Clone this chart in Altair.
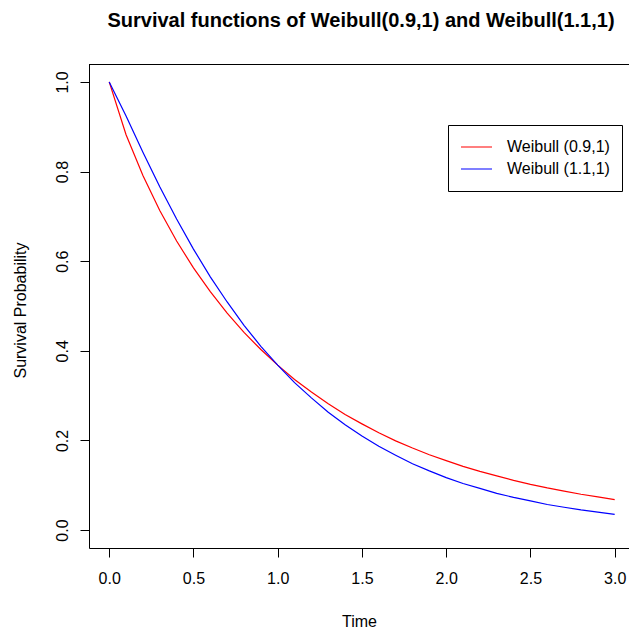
import altair as alt
import pandas as pd

# Values
time = [0.0, 0.1, 0.2, 0.3, 0.4, 0.5, 0.6, 0.7, 0.8, 0.9, 1.0,
        1.1, 1.2, 1.3, 1.4, 1.5, 1.6, 1.7, 1.8, 1.9, 2.0,
        2.1, 2.2, 2.3, 2.4, 2.5, 2.6, 2.7, 2.8, 2.9, 3.0]
surv_09 = [1.000, 0.882, 0.791, 0.713, 0.645, 0.585, 0.532, 0.484, 0.441, 0.403, 0.368,
           0.336, 0.308, 0.282, 0.258, 0.237, 0.217, 0.199, 0.183, 0.168, 0.155,
           0.142, 0.131, 0.121, 0.111, 0.102, 0.094, 0.087, 0.080, 0.074, 0.068]
surv_11 = [1.000, 0.924, 0.843, 0.766, 0.694, 0.627, 0.565, 0.509, 0.457, 0.410, 0.368,
           0.329, 0.295, 0.263, 0.235, 0.210, 0.187, 0.167, 0.148, 0.132, 0.117,
           0.104, 0.093, 0.082, 0.073, 0.065, 0.057, 0.051, 0.045, 0.040, 0.035]
series_names = ["Weibull (0.9,1)", "Weibull (1.1,1)"]
series_colors = ["#FF0000", "#0000FF"]
x_ticks = [0.0, 0.5, 1.0, 1.5, 2.0, 2.5, 3.0]
y_ticks = [0.0, 0.2, 0.4, 0.6, 0.8, 1.0]

rows = []
for t, a, b in zip(time, surv_09, surv_11):
    rows.append({"Time": t, "S": a, "Series": series_names[0]})
    rows.append({"Time": t, "S": b, "Series": series_names[1]})
df = pd.DataFrame(rows)

FONT = "Liberation Sans"
W, H = 540, 484

lines = alt.Chart(df).mark_line(strokeWidth=1.2, clip=True).encode(
    x=alt.X("Time:Q", scale=alt.Scale(domain=[-0.12, 3.085], nice=False, zero=False),
            axis=alt.Axis(values=x_ticks, format=".1f", title="Time",
                          titleY=78, titleBaseline="alphabetic",
                          labelBaseline="top", labelPadding=13)),
    y=alt.Y("S:Q", scale=alt.Scale(domain=[-0.04, 1.04], nice=False, zero=False),
            axis=alt.Axis(values=y_ticks, format=".1f", title="Survival Probability",
                          labelAngle=270, labelAlign="center", labelBaseline="alphabetic",
                          labelPadding=13, titleAngle=270, titleX=-64, titleY=246,
                          titleBaseline="alphabetic", titleAlign="center")),
    color=alt.Color("Series:N",
                    scale=alt.Scale(domain=series_names, range=series_colors),
                    legend=alt.Legend(title=None, orient="none", legendX=359, legendY=61,
                                      symbolType="stroke", symbolSize=961,
                                      symbolStrokeWidth=1.2, clipHeight=20,
                                      labelFontSize=16, labelFont=FONT, labelColor="black",
                                      labelOffset=14, padding=12,
                                      fillColor="white", strokeColor="black")),
    order=alt.Order("Time:Q"),
)

top_border = alt.Chart(pd.DataFrame({"a": [0]})).mark_rule(color="black", strokeWidth=1).encode(
    x=alt.value(0), x2=alt.value(W), y=alt.value(0.5)
)

chart = alt.layer(lines, top_border).properties(
    width=W, height=H,
    title=alt.TitleParams(
        "Survival functions of Weibull(0.9,1) and Weibull(1.1,1)",
        font=FONT, fontSize=20, fontWeight="bold", color="black",
        anchor="middle", frame="group", baseline="alphabetic", offset=17, dx=2),
    autosize=alt.AutoSizeParams(type="none"),
    padding={"left": 89, "top": 64, "right": 0, "bottom": 81},
).configure_view(stroke=None).configure_axis(
    grid=False, domainColor="black", domainWidth=1, tickColor="black", tickSize=9,
    tickWidth=1, labelFont=FONT, labelFontSize=16, labelColor="black",
    titleFont=FONT, titleFontSize=16, titleColor="black", titleFontWeight="normal",
)

chart.save("out.html", embed_options={"renderer": "svg", "actions": False})
